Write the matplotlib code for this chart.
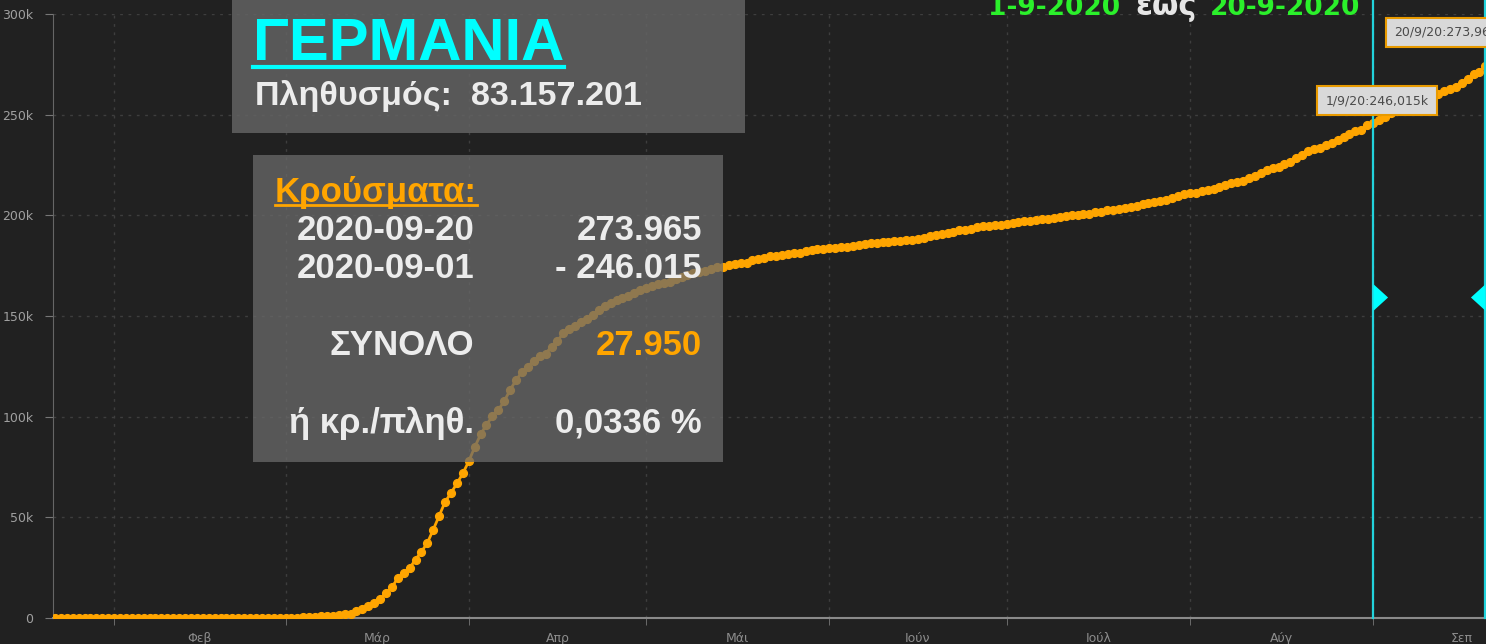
import numpy as np
import pandas as pd
import matplotlib
matplotlib.use('Agg')
import matplotlib.pyplot as plt
import matplotlib.dates as mdates
from matplotlib.patches import Rectangle
from matplotlib.lines import Line2D
from matplotlib.ticker import FuncFormatter

# cumulative confirmed cases, Germany (daily)
cases_jan = [0, 0, 0, 0, 0, 1, 4, 4, 4, 5]                       # 22-31 Jan
cases_feb = [8, 10, 12, 12, 12, 12, 13, 13, 14, 14,
             16, 16, 16, 16, 16, 16, 16, 16, 16, 16,
             16, 16, 16, 16, 17, 27, 46, 48, 79]
cases_mar = [130, 159, 196, 262, 482, 670, 799, 1040, 1176, 1457,
             1908, 2078, 3675, 4585, 5795, 7272, 9257, 12327, 15320, 19848,
             22213, 24873, 29056, 32986, 37323, 43938, 50871, 57695, 62095, 66885,
             71808]
cases_apr = [77872, 84794, 91159, 96092, 100123, 103374, 107663, 113296, 118181, 122171,
             124908, 127854, 130072, 131359, 134753, 137698, 141397, 143342, 145184, 147065,
             148291, 150648, 153129, 154999, 156513, 157770, 158758, 159912, 161539, 163009]
cases_may = [164077, 164967, 165664, 166152, 167007, 168162, 169430, 170588, 171324, 171879,
             172576, 173171, 174098, 174478, 175233, 175752, 176369, 176551, 177778, 178473,
             179021, 179710, 179986, 180328, 180600, 181200, 181524, 182196, 182922, 183189,
             183410]
cases_jun = [183594, 183879, 184121, 184472, 184924, 185450, 185750, 186109, 186506, 186522,
             186691, 187226, 187267, 187518, 187682, 188252, 188604, 189817, 190299, 190670,
             191272, 191768, 192480, 192871, 193371, 194036, 194458, 194693, 195042, 195418]
cases_jul = [195893, 196370, 196780, 197198, 197341, 197523, 198064, 198343, 198699, 199375,
             199726, 199919, 200180, 200456, 200890, 201450, 201823, 202426, 202735, 203325,
             203717, 204276, 204881, 205623, 206242, 206667, 207112, 207707, 208546, 209653,
             210402]
cases_aug = [211005, 211281, 212022, 212828, 213067, 214214, 215210, 215891, 216327, 216903,
             218519, 219540, 220859, 222281, 223453, 224014, 225404, 226700, 228621, 230048,
             232082, 232864, 233575, 234853, 236122, 237583, 239010, 240571, 241771, 242381,
             244802]
cases_sep = [246015, 247411, 248840, 250799, 251728, 252298, 253474, 254487, 255948, 257863,
             259735, 260355, 261737, 262507, 263663, 265857, 267773, 270070, 271415, 273965]

month_labels = ['Φεβ', 'Μάρ', 'Απρ', 'Μάι', 'Ιούν', 'Ιούλ', 'Αύγ', 'Σεπ']
population = 83157201
country = 'ΓΕΡΜΑΝΙΑ'
start_day = '2020-09-01'
end_day = '2020-09-20'

cases = np.array(cases_jan + cases_feb + cases_mar + cases_apr + cases_may
                 + cases_jun + cases_jul + cases_aug + cases_sep)
dates = pd.date_range('2020-01-22', periods=len(cases), freq='D')

d0, d1 = pd.Timestamp(start_day), pd.Timestamp(end_day)
v0 = cases[dates.get_loc(d0)]
v1 = cases[dates.get_loc(d1)]
total = v1 - v0
ratio = total / population * 100

BG = '#212121'
ORANGE = '#ffa500'
CYAN = '#22d3dc'

W, H = 1486, 644
fig = plt.figure(figsize=(W / 100, H / 100), dpi=100, facecolor=BG)
ax = fig.add_axes([53 / W, 26 / H, 1 - 53 / W, (618 - 14) / H])
ax.set_facecolor(BG)

x = mdates.date2num(dates)
ax.plot(x, cases, color=ORANGE, lw=2, marker='o', ms=5.6, mec=ORANGE, mfc=ORANGE, zorder=3)

ax.set_xlim(x[0] - 0.34, x[-1] + 0.1)
ax.set_ylim(0, 300000)

# month ticks: boundaries as minor ticks, names in the middle
month_starts = pd.date_range('2020-02-01', '2020-10-01', freq='MS')
bounds = mdates.date2num(month_starts)
mids = (bounds[:-1] + bounds[1:]) / 2
ax.set_xticks(mids)
ax.set_xticklabels(month_labels)
ax.set_xticks(bounds[:-1], minor=True)
ax.tick_params(axis='x', which='major', length=0, pad=10, labelsize=9, labelcolor='#8c8c8c')
ax.tick_params(axis='x', which='minor', length=5, color='#777777', direction='out')

ax.set_yticks(np.arange(0, 300001, 50000))
ax.yaxis.set_major_formatter(FuncFormatter(lambda v, p: '0' if v == 0 else f'{int(v / 1000)}k'))
ax.tick_params(axis='y', length=6, color='#777777', pad=8, labelsize=9, labelcolor='#a0a0a0')

ax.grid(True, axis='y', which='major', color='#3e3e3e', ls=(0, (2, 4)), lw=1)
ax.grid(True, axis='x', which='minor', color='#3e3e3e', ls=(0, (2, 4)), lw=1)
ax.set_axisbelow(True)

for s in ['top', 'right']:
    ax.spines[s].set_visible(False)
ax.spines['left'].set_color('#666666')
ax.spines['bottom'].set_color('#8a8a8a')
ax.spines['bottom'].set_linewidth(1.5)

# selected period
xs0, xs1 = mdates.date2num(d0), mdates.date2num(d1)
for xv in (xs0, xs1):
    ax.axvline(xv, ymin=0, ymax=1.03, color=CYAN, lw=1.6, clip_on=False, zorder=4)
ax.plot([xs0], [0.531], transform=ax.get_xaxis_transform(), marker=[(0, -1), (0, 1), (1.1, 0)],
        ms=21, color='#00ffff', mew=0, zorder=5)
ax.plot([xs1], [0.531], transform=ax.get_xaxis_transform(), marker=[(0, -1), (0, 1), (-1.1, 0)],
        ms=21, color='#00ffff', mew=0, zorder=5)

box = dict(boxstyle='square,pad=0.65', fc='#d9d9d9', ec='#e89a00', lw=1.5)


def tag(d, v):
    return f'{d.day}/{d.month}/{d:%y}:' + f'{v / 1000:.3f}k'.replace('.', ',')


ax.annotate(tag(d0, v0), xy=(xs0, v0), xytext=(4, 22), textcoords='offset pixels',
            ha='center', va='center', fontsize=9, color='#4a4a4a', bbox=box, zorder=6)
ax.annotate(tag(d1, v1), xy=(xs1, v1), xytext=(-91, 34), textcoords='offset pixels',
            ha='left', va='center', fontsize=9, color='#4a4a4a', bbox=box, zorder=6,
            annotation_clip=False)


# info boxes (figure coordinates)
def fx(px):
    return px / W


def fy(py):
    return 1 - py / H


fig.patches.append(Rectangle((fx(232), fy(133)), fx(745) - fx(232), fy(-20) - fy(133),
                             transform=fig.transFigure, fc='#656565', alpha=0.82, ec='none', zorder=1))
fig.patches.append(Rectangle((fx(253), fy(462)), fx(723) - fx(253), fy(155) - fy(462),
                             transform=fig.transFigure, fc='#6a6a6a', alpha=0.75, ec='none', zorder=1))

fam = 'Liberation Sans'
WHITE = '#ececec'


def num(v):
    return f'{v:,}'.replace(',', '.')


t_country = fig.text(fx(253), fy(60), country, color='#00ffff', fontsize=43, family=fam,
                     fontweight='bold', va='baseline', ha='left')
fig.text(fx(255), fy(105), f'Πληθυσμός:  {num(population)}', color=WHITE, fontsize=24.6,
         family=fam, fontweight='bold', va='baseline', ha='left')

t_cases = fig.text(fx(275), fy(202), 'Κρούσματα:', color=ORANGE, fontsize=25, family=fam,
                   fontweight='bold', va='baseline', ha='left')

rows = [
    (240, f'{d1:%Y-%m-%d}', num(v1), WHITE),
    (278, f'{d0:%Y-%m-%d}', '- ' + num(v0), WHITE),
    (355, 'ΣΥΝΟΛΟ', num(total), ORANGE),
    (433, 'ή κρ./πληθ.', f'{ratio:.4f} %'.replace('.', ','), WHITE),
]
for yb, left, right, col in rows:
    fig.text(fx(474), fy(yb), left, color=WHITE, fontsize=25, family=fam, fontweight='bold',
             va='baseline', ha='right')
    fig.text(fx(702), fy(yb), right, color=col, fontsize=25, family=fam, fontweight='bold',
             va='baseline', ha='right')

# period title, partly cut by the top edge
GREEN = '#2bf02b'
fig.text(fx(988), fy(15), f'{d0.day}-{d0.month}-{d0.year}', color=GREEN, fontsize=19,
         fontweight='bold', va='baseline', ha='left')
fig.text(fx(1166), fy(15), 'έως', color='#e6e6e6', fontsize=22, fontweight='bold',
         va='baseline', ha='center')
fig.text(fx(1360), fy(15), f'{d1.day}-{d1.month}-{d1.year}', color=GREEN, fontsize=19,
         fontweight='bold', va='baseline', ha='right')

# underlines
fig.canvas.draw()
r = fig.canvas.get_renderer()
for t, col, dy, lw in [(t_country, '#00ffff', 7, 3), (t_cases, ORANGE, 3, 2)]:
    bb = t.get_window_extent(r)
    ybase = t.get_position()[1] * H
    fig.add_artist(Line2D([bb.x0 / W, bb.x1 / W], [(ybase - dy) / H] * 2, color=col, lw=lw,
                          transform=fig.transFigure, zorder=3))

fig.savefig('out.png', dpi=100, facecolor=BG)
